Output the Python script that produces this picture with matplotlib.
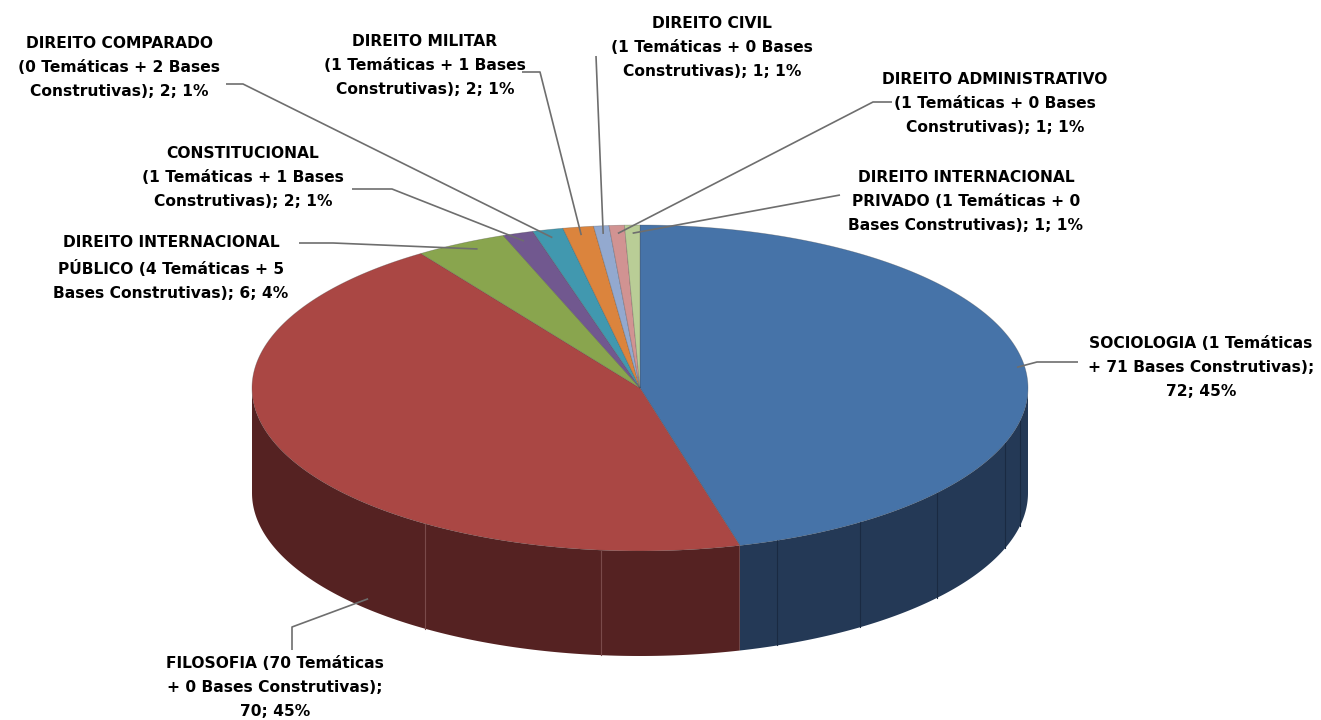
import matplotlib

matplotlib.use("Agg")
import matplotlib.pyplot as plt
import numpy as np
from matplotlib.patches import Polygon


# Áreas do conhecimento: nome, total de trabalhos e percentual exibido
CATEGORIES = [
    "SOCIOLOGIA (1 Temáticas\n+ 71 Bases Construtivas)",
    "FILOSOFIA (70 Temáticas\n+ 0 Bases Construtivas)",
    "DIREITO INTERNACIONAL\nPÚBLICO (4 Temáticas + 5\nBases Construtivas)",
    "CONSTITUCIONAL\n(1 Temáticas + 1 Bases\nConstrutivas)",
    "DIREITO COMPARADO\n(0 Temáticas + 2 Bases\nConstrutivas)",
    "DIREITO MILITAR\n(1 Temáticas + 1 Bases\nConstrutivas)",
    "DIREITO CIVIL\n(1 Temáticas + 0 Bases\nConstrutivas)",
    "DIREITO ADMINISTRATIVO\n(1 Temáticas + 0 Bases\nConstrutivas)",
    "DIREITO INTERNACIONAL\nPRIVADO (1 Temáticas + 0\nBases Construtivas)",
]
VALUES = [72, 70, 6, 2, 2, 2, 1, 1, 1]
PERCENTS = [45, 45, 4, 1, 1, 1, 1, 1, 1]

TOP_COLORS = ["#4673A8", "#AA4744", "#89A54E", "#71588F", "#4198AF",
              "#DB843D", "#93A9CF", "#D19392", "#B9CD96"]
SIDE_COLORS = ["#243956", "#552222", "#44522A", "#392C48", "#214C58",
               "#6E421E", "#4A5568", "#694A49", "#5D674B"]

# geometria do disco (pixels)
CX, CY, RX, RY, DEPTH = 640, 388, 388, 163, 105

# rótulos: centro do bloco, pontos da linha de chamada, ancoragem na fatia
LABEL_XY = [(1201, 367), (275, 687), (171, 268), (243, 178), (119, 67),
            (425, 66), (712, 47), (995, 104), (966, 201)]
LABEL_BREAK = [True, True, False, False, False, False, False, False, False]
LEADERS = [
    [(1078, 362), (1037, 362)],
    [(292, 650), (292, 627)],
    [(299, 243), (333, 243)],
    [(352, 189), (392, 189)],
    [(226, 84), (243, 84)],
    [(522, 72), (540, 72)],
    [(596, 56)],
    [(892, 102), (873, 102)],
    [(840, 195)],
]
# (fração ao longo da fatia, raio relativo, fração da espessura)
ANCHORS = [(0.5, 0.98, 0.0), (0.37, 1.0, 0.9), (0.6, 0.95, 0.0),
           (0.5, 0.95, 0.0), (0.5, 0.95, 0.0), (0.5, 0.95, 0.0),
           (0.5, 0.95, 0.0), (0.5, 0.95, 0.0), (0.5, 0.95, 0.0)]

# linhas de faceta na lateral
FACETS = [(-123.6, "#7A4A4A"), (-95.8, "#7A4A4A"), (-69.3, "#1A2A42"),
          (-55.5, "#1A2A42"), (-40.1, "#1A2A42"), (-19.9, "#1A2A42"),
          (-11.7, "#1A2A42")]


def rim(theta, r=1.0, drop=0.0):
    t = np.radians(theta)
    return CX + RX * r * np.cos(t), CY - RY * r * np.sin(t) + drop


def main() -> None:
    fig = plt.figure(figsize=(13.21, 7.2), dpi=100)
    ax = fig.add_axes([0, 0, 1, 1])
    ax.set_xlim(0, 1321)
    ax.set_ylim(720, 0)
    ax.axis("off")

    values = np.array(VALUES, dtype=float)
    bounds = 90 - 360 * np.concatenate([[0], np.cumsum(values)]) / values.sum()

    # faces laterais (metade frontal)
    for i in range(len(values)):
        a0, a1 = bounds[i], bounds[i + 1]
        lo, hi = max(a1, -180), min(a0, 0)
        if lo >= hi:
            continue
        th = np.linspace(hi, lo, 120)
        tx, ty = rim(th)
        bx, by = rim(th[::-1], drop=DEPTH)
        pts = np.column_stack([np.concatenate([tx, bx]), np.concatenate([ty, by])])
        ax.add_patch(Polygon(pts, closed=True, facecolor=SIDE_COLORS[i],
                             edgecolor="none", zorder=1))

    for theta, color in FACETS:
        x0, y0 = rim(theta)
        x1, y1 = rim(theta, drop=DEPTH)
        ax.plot([x0, x1], [y0, y1], color=color, lw=0.8, zorder=1.5)

    # faces superiores
    for i in range(len(values)):
        a0, a1 = bounds[i], bounds[i + 1]
        n = max(int(abs(a0 - a1) * 2), 4)
        th = np.linspace(a0, a1, n)
        ex, ey = rim(th)
        pts = np.column_stack([np.concatenate([[CX], ex]), np.concatenate([[CY], ey])])
        ax.add_patch(Polygon(pts, closed=True, facecolor=TOP_COLORS[i],
                             edgecolor=(0.25, 0.25, 0.25, 0.35), linewidth=0.5,
                             zorder=2))

    # rótulos e linhas de chamada
    for i, name in enumerate(CATEGORIES):
        sep = ";\n" if LABEL_BREAK[i] else "; "
        label = f"{name}{sep}{VALUES[i]}; {PERCENTS[i]}%"
        x, y = LABEL_XY[i]
        ax.text(x, y, label, ha="center", va="center", multialignment="center",
                fontsize=11.2, fontweight="bold", family="DejaVu Sans",
                linespacing=1.75, color="black", zorder=5)

        frac, r, dfrac = ANCHORS[i]
        a0, a1 = bounds[i], bounds[i + 1]
        ax_, ay_ = rim(a0 + (a1 - a0) * frac, r=r, drop=DEPTH * dfrac)
        path = LEADERS[i] + [(ax_, ay_)]
        px, py = zip(*path)
        ax.plot(px, py, color="#6E6E6E", lw=1.2, zorder=4,
                solid_capstyle="butt")

    fig.savefig("out.png", dpi=100, facecolor="white")
    plt.close(fig)


if __name__ == "__main__":
    main()
